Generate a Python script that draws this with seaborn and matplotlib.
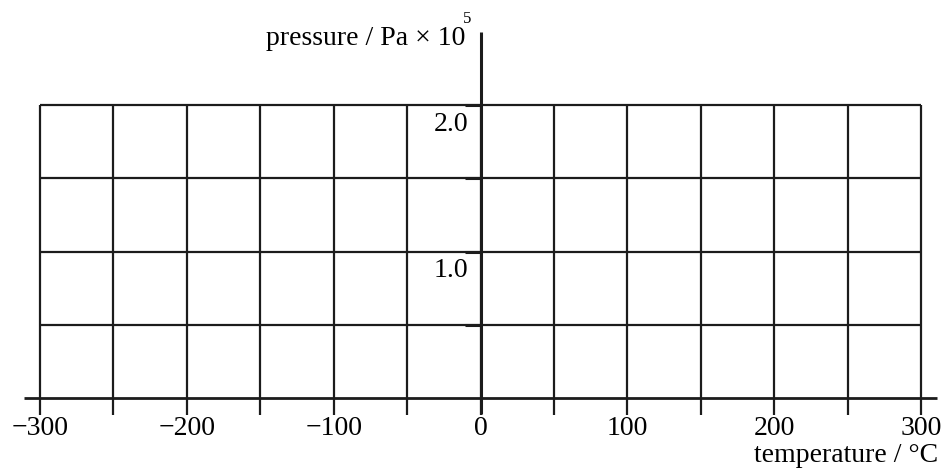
import numpy as np
import matplotlib
matplotlib.use("Agg")
import matplotlib.pyplot as plt
import seaborn as sns

# Grid and axis definitions (temperature in °C, pressure in units of 10^5 Pa)
grid_x = [-300, -250, -200, -150, -100, -50, 0, 50, 100, 150, 200, 250, 300]
grid_y = [0.5, 1.0, 1.5, 2.0]
x_tick_values = [-300, -200, -100, 0, 100, 200, 300]
x_tick_labels = ["\u2212300", "\u2212200", "\u2212100", "0", "100", "200", "300"]
y_tick_values = [1.0, 2.0]
y_tick_labels = ["1.0", "2.0"]
x_label = "temperature / °C"
y_label = "pressure / Pa × 10"
y_label_power = "5"

sns.set_theme(style="white")
plt.rcParams["font.family"] = ["Liberation Serif", "DejaVu Serif"]

fig = plt.figure(figsize=(9.45, 4.68), dpi=100)
ax = fig.add_axes([0, 0, 1, 1])
ax.set_xlim(-327.3, 316.4)
ax.set_ylim(-0.478, 2.717)
ax.axis("off")

ink = "#1c1c1c"
lw = 1.6
fs = 20

# square grid
ax.vlines(grid_x, 0, max(grid_y), color=ink, lw=lw)
ax.hlines(grid_y, min(grid_x), max(grid_x), color=ink, lw=lw)

# tick marks below the temperature axis
ax.vlines(grid_x, -0.115, 0, color=ink, lw=lw)

# small ticks left of the pressure axis
ax.hlines(grid_y, -10.5, 0, color=ink, lw=2.2)

# axes lines
ax.hlines(0, -311, 311, color=ink, lw=2.0)
ax.vlines(0, -0.11, 2.5, color=ink, lw=2.2)

# tick labels
for xv, lab in zip(x_tick_values, x_tick_labels):
    ax.text(xv, -0.21, lab, ha="center", va="center", fontsize=fs, color="black")
for yv, lab in zip(y_tick_values, y_tick_labels):
    ax.text(-8.5, yv - 0.13, lab, ha="right", va="center", fontsize=fs, color="black")

# axis titles
ax.text(312, -0.395, x_label, ha="right", va="center", fontsize=fs, color="black")
ax.text(-10.6, 2.41, y_label, ha="right", va="baseline", fontsize=fs, color="black")
ax.text(-9.0, 2.56, y_label_power, ha="center", va="baseline", fontsize=12, color="black")

sns.despine(ax=ax, left=True, bottom=True)
fig.savefig("out.png", dpi=100)
